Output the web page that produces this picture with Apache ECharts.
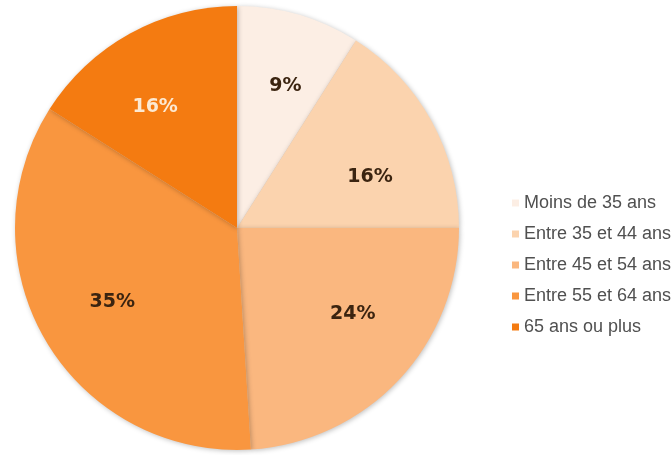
<!DOCTYPE html>
<html>
<head>
<meta charset="utf-8">
<script src="https://cdn.jsdelivr.net/npm/echarts@6/dist/echarts.min.js"></script>
<style>
  html, body { margin: 0; padding: 0; background: #fff; }
  #chart { width: 671px; height: 455px; }
</style>
</head>
<body>
<div id="chart"></div>
<script>
// Age brackets and their share (%)
const categories = ['Moins de 35 ans', 'Entre 35 et 44 ans', 'Entre 45 et 54 ans', 'Entre 55 et 64 ans', '65 ans ou plus'];
const shares = [9, 16, 24, 35, 16];

// Slice styling
const colors = ['#FCEEE4', '#FBD3AE', '#FAB77F', '#F9963F', '#F47B11'];
const labelColors = ['#3b2410', '#3b2410', '#3b2410', '#3b2410', '#FCE9D2'];
// small per-slice nudges of the percentage labels (px)
const labelShift = [[8, -3], [6, 19], [10, -13], [0, 0], [-12, 6]];

const chart = echarts.init(document.getElementById('chart'), null, { renderer: 'canvas' });

const pieData = categories.map((name, i) => ({
  name,
  value: shares[i],
  itemStyle: { color: colors[i] }
}));

const labelData = categories.map((name, i) => ({
  name,
  value: shares[i],
  label: { color: labelColors[i], offset: labelShift[i] }
}));

chart.setOption({
  animation: false,
  legend: {
    orient: 'vertical',
    left: 507,
    top: 189,
    itemWidth: 7,
    itemHeight: 7,
    itemGap: 13,
    icon: 'rect',
    textStyle: {
      fontFamily: 'Liberation Sans',
      fontSize: 18,
      lineHeight: 18,
      color: '#505050'
    },
    data: categories
  },
  series: [
    {
      type: 'pie',
      center: [237, 228],
      radius: [0, 222],
      startAngle: 90,
      clockwise: true,
      label: { show: false },
      labelLine: { show: false },
      itemStyle: {
        borderWidth: 0,
        shadowBlur: 5,
        shadowColor: 'rgba(0,0,0,0.25)',
        shadowOffsetX: 1,
        shadowOffsetY: 1
      },
      emphasis: { disabled: true },
      data: pieData
    },
    {
      // transparent ring used only to place the percentage labels
      type: 'pie',
      center: [237, 228],
      radius: [74, 210],
      startAngle: 90,
      clockwise: true,
      silent: true,
      legendHoverLink: false,
      itemStyle: { color: 'rgba(0,0,0,0)' },
      label: {
        show: true,
        position: 'inside',
        formatter: '{c}%',
        fontFamily: 'DejaVu Sans',
        fontWeight: 'bold',
        fontSize: 19
      },
      labelLine: { show: false },
      emphasis: { disabled: true },
      data: labelData
    }
  ]
});
</script>
</body>
</html>
